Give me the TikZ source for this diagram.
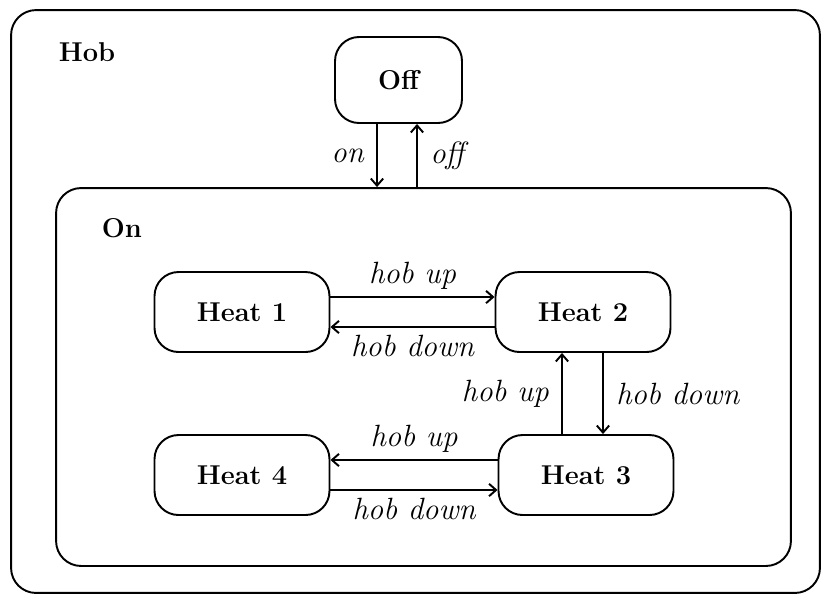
\documentclass[tikz,border=0pt]{standalone}
\usepackage{tikz}
\usetikzlibrary{arrows.meta,calc,positioning}

\begin{document}
\begin{tikzpicture}[x=0.02cm,y=-0.02cm,line cap=round,line join=round,
    state/.style={draw,fill=white,rounded corners=0.48cm,line width=1.1pt,
      minimum width=3.5cm,minimum height=1.6cm,inner sep=0pt,
      font=\fontsize{15.5}{18}\selectfont\bfseries},
    region/.style={draw,rounded corners=0.5cm,line width=1.1pt,inner sep=0pt},
    title/.style={font=\fontsize{15.5}{18}\selectfont\bfseries},
    trans/.style={-{Straight Barb[length=4pt,width=7pt]},line width=1.1pt},
    lbl/.style={font=\fontsize{17.5}{20}\selectfont\itshape,inner sep=2pt}]
  \useasboundingbox (0,0) rectangle (827,600);
  % outer state
  \node[region,minimum width=16.18cm,minimum height=11.66cm] (hob) at (415.5,301.5) {};
  \node[title] (hoblbl) at (87,52) {Hob};
  \node[state,minimum width=2.54cm,minimum height=1.72cm] (off) at (398.5,80) {Off};
  % inner state
  \node[region,minimum width=14.7cm,minimum height=7.56cm] (on) at (423.5,377) {};
  \node[title] (onlbl) at (122,228) {On};
  \node[state] (heat1) at (242,312) {Heat 1};
  \node[state] (heat2) at (583,312) {Heat 2};
  \node[state] (heat3) at (586,475) {Heat 3};
  \node[state] (heat4) at (242,475) {Heat 4};
  % on / off
  \draw[trans] ([xshift=-0.43cm]off.south) -- ([xshift=-0.43cm]off.south |- on.north)
    node[lbl,midway,left=5pt] {on};
  \draw[trans] ([xshift=0.37cm]off.south |- on.north) -- ([xshift=0.37cm]off.south)
    node[lbl,midway,right=5pt] {off};
  % heat 1 <-> heat 2
  \draw[trans] ([yshift=0.3cm]heat1.east) -- ([yshift=0.3cm]heat1.east -| heat2.west)
    node[lbl,midway,above=2pt] {hob up};
  \draw[trans] ([yshift=-0.3cm]heat1.east -| heat2.west) -- ([yshift=-0.3cm]heat1.east)
    node[lbl,midway,below=2pt] {hob down};
  % heat 2 <-> heat 3
  \draw[trans] ([xshift=-0.42cm]heat2.south |- heat3.north) -- ([xshift=-0.42cm]heat2.south)
    node[lbl,midway,left=5pt] {hob up};
  \draw[trans] ([xshift=0.4cm]heat2.south) -- ([xshift=0.4cm]heat2.south |- heat3.north)
    node[lbl,midway,right=5pt] {hob down};
  % heat 3 <-> heat 4
  \draw[trans] ([yshift=0.3cm]heat4.east -| heat3.west) -- ([yshift=0.3cm]heat4.east)
    node[lbl,midway,above=2pt] {hob up};
  \draw[trans] ([yshift=-0.3cm]heat4.east) -- ([yshift=-0.3cm]heat4.east -| heat3.west)
    node[lbl,midway,below=2pt] {hob down};
\end{tikzpicture}
\end{document}
